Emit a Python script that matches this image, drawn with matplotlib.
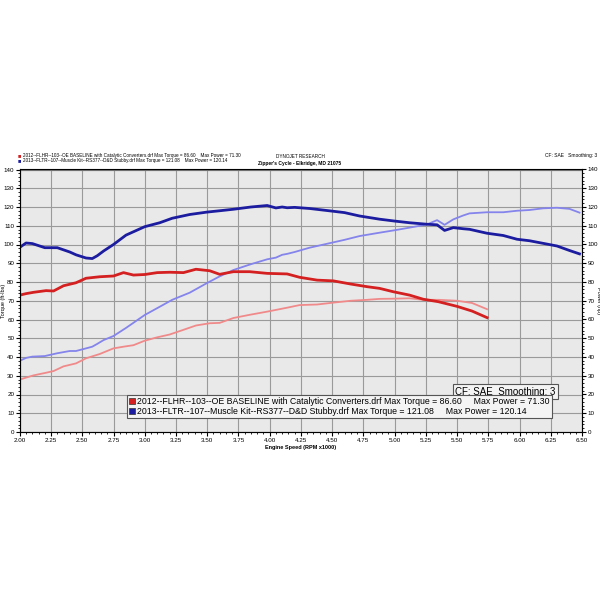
import numpy as np
import matplotlib.pyplot as plt
from matplotlib.lines import Line2D

plt.rcParams['font.family'] = ['Liberation Sans', 'DejaVu Sans']

# 2012 FLHR baseline run
rpm_a = [2.00, 2.05, 2.11, 2.21, 2.27, 2.35, 2.45, 2.53, 2.64, 2.75, 2.83, 2.91,
         3.00, 3.10, 3.20, 3.31, 3.41, 3.52, 3.60, 3.71, 3.84, 3.98, 4.14, 4.24,
         4.38, 4.51, 4.65, 4.78, 4.88, 4.99, 5.12, 5.23, 5.35, 5.50, 5.62, 5.74]
torque_a = [73.0, 73.8, 74.5, 75.4, 75.2, 78.0, 79.6, 82.0, 82.8, 83.2, 85.0, 83.7,
            84.0, 85.0, 85.2, 85.0, 86.8, 86.0, 84.1, 85.5, 85.5, 84.6, 84.3, 82.5,
            81.0, 80.6, 78.9, 77.5, 76.6, 74.8, 73.0, 70.8, 69.5, 67.0, 64.5, 61.0]
power_a = [28.0, 29.0, 30.2, 31.6, 32.5, 35.0, 36.6, 39.3, 41.6, 44.6, 45.5, 46.3,
           48.7, 50.5, 52.0, 54.5, 56.8, 58.0, 58.2, 60.8, 62.5, 64.2, 66.3, 67.7,
           68.0, 69.0, 70.0, 70.5, 71.0, 71.1, 71.3, 70.5, 70.5, 70.0, 68.8, 65.5]

# 2013 FLTR muscle kit run
rpm_b = [2.00, 2.05, 2.10, 2.20, 2.30, 2.40, 2.45, 2.53, 2.58, 2.62, 2.67, 2.75,
         2.85, 3.00, 3.12, 3.22, 3.36, 3.50, 3.60, 3.71, 3.85, 3.98, 4.05, 4.10,
         4.14, 4.20, 4.32, 4.50, 4.60, 4.72, 4.88, 5.00, 5.12, 5.26, 5.34, 5.40,
         5.47, 5.55, 5.60, 5.74, 5.87, 5.98, 6.08, 6.19, 6.30, 6.40, 6.48]
torque_b = [98.5, 100.8, 100.5, 98.3, 98.3, 96.0, 94.5, 92.8, 92.5, 94.0, 96.5, 100.0,
            105.0, 109.5, 111.6, 114.0, 116.0, 117.3, 118.0, 118.8, 120.0, 120.8, 119.5, 120.0,
            119.6, 119.8, 119.2, 117.8, 117.0, 115.2, 113.5, 112.5, 111.6, 110.8, 110.5, 107.5,
            109.0, 108.4, 108.1, 106.0, 104.8, 102.8, 102.0, 100.6, 99.2, 96.8, 95.0]
power_b = [38.0, 39.5, 40.2, 40.5, 42.0, 43.2, 43.2, 44.6, 45.5, 47.0, 49.0, 51.2,
           55.5, 62.4, 66.8, 70.5, 74.3, 79.5, 83.0, 86.4, 89.5, 92.1, 93.0, 94.5,
           95.0, 96.0, 98.3, 101.0, 102.5, 104.5, 106.3, 107.6, 109.0, 110.7, 113.0, 110.5,
           113.4, 115.5, 116.6, 117.2, 117.2, 118.0, 118.4, 119.3, 119.6, 119.0, 117.0]

x_ticks = np.arange(2.0, 6.51, 0.25)
y_ticks = np.arange(0, 141, 10)

red = '#d42020'
red_light = '#f08a8a'
blue = '#1c1ca0'
blue_light = '#8484ec'

fig = plt.figure(figsize=(6, 6), dpi=100)
ax = fig.add_axes([0.033, 0.28, 0.937, 0.4375])
ax.set_facecolor('#e9e9e9')

ax.plot(rpm_a, power_a, color=red_light, lw=1.3)
ax.plot(rpm_b, power_b, color=blue_light, lw=1.3)
ax.plot(rpm_a, torque_a, color=red, lw=2)
ax.plot(rpm_b, torque_b, color=blue, lw=2)

ax.set_xlim(2.0, 6.5)
ax.set_ylim(0, 140)
ax.set_xticks(x_ticks)
ax.set_xticklabels(['%.2f' % v for v in x_ticks])
ax.set_yticks(y_ticks)
ax.set_xticks(np.arange(2.0, 6.51, 0.05), minor=True)
ax.set_yticks(np.arange(0, 141, 2), minor=True)
ax.grid(True, which='major', color='#9a9a9a', lw=0.8)
ax.tick_params(axis='both', which='major', labelsize=4.5, length=3, pad=1)
ax.tick_params(axis='both', which='minor', length=1.5)
for s in ax.spines.values():
    s.set_color('#777777')

ax2 = ax.twinx()
ax2.set_ylim(0, 140)
ax2.set_yticks(y_ticks)
ax2.set_yticks(np.arange(0, 141, 2), minor=True)
ax2.tick_params(axis='y', which='major', labelsize=4.5, length=3, pad=1)
ax2.tick_params(axis='y', which='minor', length=1.5)

ax.set_ylabel('Torque (ft-lbs)', fontsize=4)
ax.yaxis.set_label_coords(-0.024, 0.5)
ax2.set_ylabel('Power (hp)', fontsize=4, rotation=270, va='center')
ax2.yaxis.set_label_coords(1.029, 0.5)
ax.set_xlabel('Engine Speed (RPM x1000)', fontsize=4, fontweight='bold', labelpad=2)

# header texts
fig.text(0.038, 0.741, '2012--FLHR--103--OE BASELINE with Catalytic Converters.drf Max Torque = 86.60    Max Power = 71.30',
         fontsize=3.3, va='center')
fig.text(0.038, 0.732, '2013--FLTR--107--Muscle Kit--RS377--D&D Stubby.drf Max Torque = 121.08    Max Power = 120.14',
         fontsize=3.3, va='center')
fig.text(0.03, 0.741, '\u25a0', fontsize=4, color=red, va='center')
fig.text(0.03, 0.732, '\u25a0', fontsize=4, color=blue, va='center')
fig.text(0.5, 0.74, 'DYNOJET RESEARCH', fontsize=3.3, ha='center', va='center')
fig.text(0.5, 0.728, "Zipper's Cycle - Elkridge, MD 21075", fontsize=3.5, ha='center', va='center',
         fontweight='bold')
fig.text(0.995, 0.74, 'CF: SAE   Smoothing: 3', fontsize=3.5, ha='right', va='center')

ax.text(0.953, 0.135, 'CF: SAE  Smoothing: 3', transform=ax.transAxes, fontsize=7,
        ha='right', va='bottom',
        bbox=dict(boxstyle='square,pad=0.25', fc='#f4f4f4', ec='#555555', lw=0.8))

handles = [Line2D([], [], ls='none', marker='s', ms=4.5, mfc=red, mec='#333333', mew=0.5),
           Line2D([], [], ls='none', marker='s', ms=4.5, mfc=blue, mec='#333333', mew=0.5)]
labels = ['2012--FLHR--103--OE BASELINE with Catalytic Converters.drf Max Torque = 86.60     Max Power = 71.30',
          '2013--FLTR--107--Muscle Kit--RS377--D&D Stubby.drf Max Torque = 121.08     Max Power = 120.14']
leg = ax.legend(handles, labels, loc='lower right', bbox_to_anchor=(0.955, 0.035), fontsize=6.3,
                handlelength=0.6, handletextpad=0.3, borderpad=0.3, labelspacing=0.05,
                fancybox=False, framealpha=1, edgecolor='#555555')
leg.get_frame().set_facecolor('#f4f4f4')
leg.get_frame().set_linewidth(0.8)

fig.savefig('out.png', dpi=100, facecolor='white')
